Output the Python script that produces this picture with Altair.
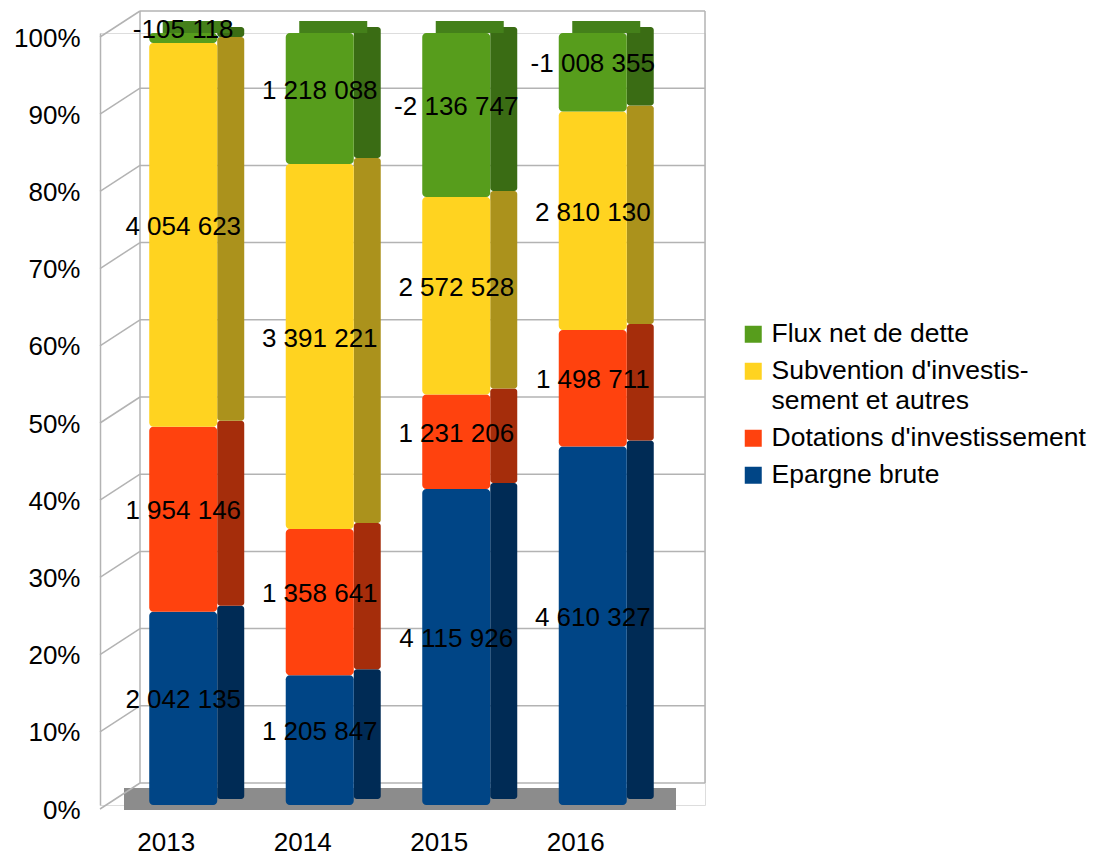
import altair as alt
import pandas as pd

years = ["2013", "2014", "2015", "2016"]
series = ["Epargne brute", "Dotations d'investissement",
          "Subvention d'investissement et autres", "Flux net de dette"]
epargne = [2042135, 1205847, 4115926, 4610327]
dotations = [1954146, 1358641, 1231206, 1498711]
subvention = [4054623, 3391221, 2572528, 2810130]
flux = [-105118, 1218088, -2136747, -1008355]
ticks = [0, 0.1, 0.2, 0.3, 0.4, 0.5, 0.6, 0.7, 0.8, 0.9, 1.0]

front_colors = ["#004586", "#ff420e", "#ffd320", "#579d1c"]
side_colors = ["#002b55", "#a52d0b", "#ab921c", "#3a6c14"]
top_color = "#44801a"

rows = []
for i, (name, vals) in enumerate(zip(series, [epargne, dotations, subvention, flux])):
    for yr, v in zip(years, vals):
        rows.append({"year": yr, "serie": name, "order": i, "value": v})
df = pd.DataFrame(rows)
grid = pd.DataFrame({"t": ticks})

legend_order = series[::-1]
front_rev = front_colors[::-1]
side_rev = side_colors[::-1]

FONT = "Liberation Sans"
FS = 26
DEPTH = 22

yscale = alt.Scale(domain=[0, 1], nice=False)
xscale = alt.Scale(domain=years, paddingInner=0, paddingOuter=0.216, align=0.254)

base = (
    alt.Chart(df)
    .transform_calculate(absval="abs(datum.value)")
    .transform_stack(stack="absval", groupby=["year"], as_=["y0", "y1"],
                     offset="normalize", sort=[alt.SortField("order", order="ascending")])
    .transform_calculate(
        mid="(datum.y0 + datum.y1) / 2",
        label="(datum.value < 0 ? '-' : '') + replace(format(abs(datum.value), ',d'), regexp(',', 'g'), ' ')",
    )
)

gridc = alt.Chart(grid)
# back wall grid lines
grid_back = gridc.mark_rule(color="#b3b3b3", strokeWidth=1.5, yOffset=-DEPTH).encode(
    x=alt.value(40), x2=alt.value(605),
    y=alt.Y("t:Q", scale=yscale, axis=None),
)
grid_side = gridc.mark_rule(color="#b3b3b3", strokeWidth=1.5, yOffset=4, y2Offset=-DEPTH).encode(
    x=alt.value(0), x2=alt.value(40),
    y=alt.Y("t:Q", scale=yscale, axis=None), y2=alt.Y2("t:Q"),
)
walls_data = gridc.transform_aggregate(lo="min(t)", hi="max(t)")
wall_left = walls_data.mark_rule(color="#b3b3b3", strokeWidth=1.5, yOffset=-DEPTH, y2Offset=-DEPTH).encode(
    x=alt.value(40), y=alt.Y("lo:Q", scale=yscale, axis=None), y2=alt.Y2("hi:Q"),
)
wall_right = walls_data.mark_rule(color="#b3b3b3", strokeWidth=1.5, yOffset=-DEPTH, y2Offset=-DEPTH).encode(
    x=alt.value(605), y=alt.Y("lo:Q", scale=yscale, axis=None), y2=alt.Y2("hi:Q"),
)
floor = gridc.transform_filter("datum.t == 0").mark_rect(color="#8c8c8c", yOffset=5, y2Offset=-17).encode(
    x=alt.value(24), x2=alt.value(576),
    y=alt.Y("t:Q", scale=yscale, axis=None), y2=alt.Y2("t:Q"),
)

side = base.mark_bar(width=27, xOffset=47.5, yOffset=-6, y2Offset=-6, cornerRadius=3).encode(
    x=alt.X("year:N", scale=xscale, axis=None),
    y=alt.Y("y0:Q", scale=yscale, axis=None),
    y2=alt.Y2("y1:Q"),
    color=alt.Color("serie:N", scale=alt.Scale(domain=legend_order, range=side_rev), legend=None),
)

top = base.transform_filter("datum.order == 3").mark_bar(
    width=68, xOffset=13.5, y2Offset=-12, color=top_color
).encode(
    x=alt.X("year:N", scale=xscale, axis=None),
    y=alt.Y("y1:Q", scale=yscale, axis=None),
    y2=alt.Y2("y1:Q"),
)

front = base.mark_bar(width=68, cornerRadius=4).encode(
    x=alt.X("year:N", scale=xscale, title=None,
            axis=alt.Axis(labelFontSize=FS, labelFont=FONT, labelColor="black",
                          labelPadding=24, labelOffset=-17, ticks=False, domain=False,
                          labelAngle=0)),
    y=alt.Y("y0:Q", scale=yscale, title=None,
            axis=alt.Axis(values=ticks, format="%", labelFontSize=FS, labelFont=FONT,
                          labelColor="black", labelPadding=20, labelOffset=5, ticks=False,
                          grid=False, domain=True, domainColor="#b3b3b3", domainWidth=1.5)),
    y2=alt.Y2("y1:Q"),
    color=alt.Color("serie:N", scale=alt.Scale(domain=legend_order, range=front_rev),
                    legend=alt.Legend(
                        title=None, orient="none", legendX=640, legendY=288,
                        symbolType="square", symbolSize=289, symbolStrokeWidth=0,
                        labelFontSize=26.5, labelFont=FONT, labelColor="black",
                        labelLimit=400, rowPadding=10, labelOffset=5,
                        labelExpr='datum.label == "Subvention d\'investissement et autres" ? ["Subvention d\'investis-", "sement et autres"] : datum.label',
                    )),
)

labels = base.mark_text(fontSize=FS, font=FONT, color="black", dy=-8).encode(
    x=alt.X("year:N", scale=xscale, axis=None),
    y=alt.Y("mid:Q", scale=yscale, axis=None),
    text="label:N",
)

chart = (
    alt.layer(floor, grid_back, grid_side, wall_left, wall_right, side, top, front, labels)
    .resolve_scale(color="independent")
    .resolve_axis(x="independent", y="independent")
    .properties(
        width=605, height=772,
        padding={"left": 92, "top": 25, "right": 385, "bottom": 50},
        autosize=alt.AutoSizeParams(type="none"),
    )
    .configure_view(stroke=None)
    .configure(font=FONT, style={"guide-label": {"lineHeight": 30}})
)

chart.save("out.html", embed_options={"renderer": "svg", "actions": False})
